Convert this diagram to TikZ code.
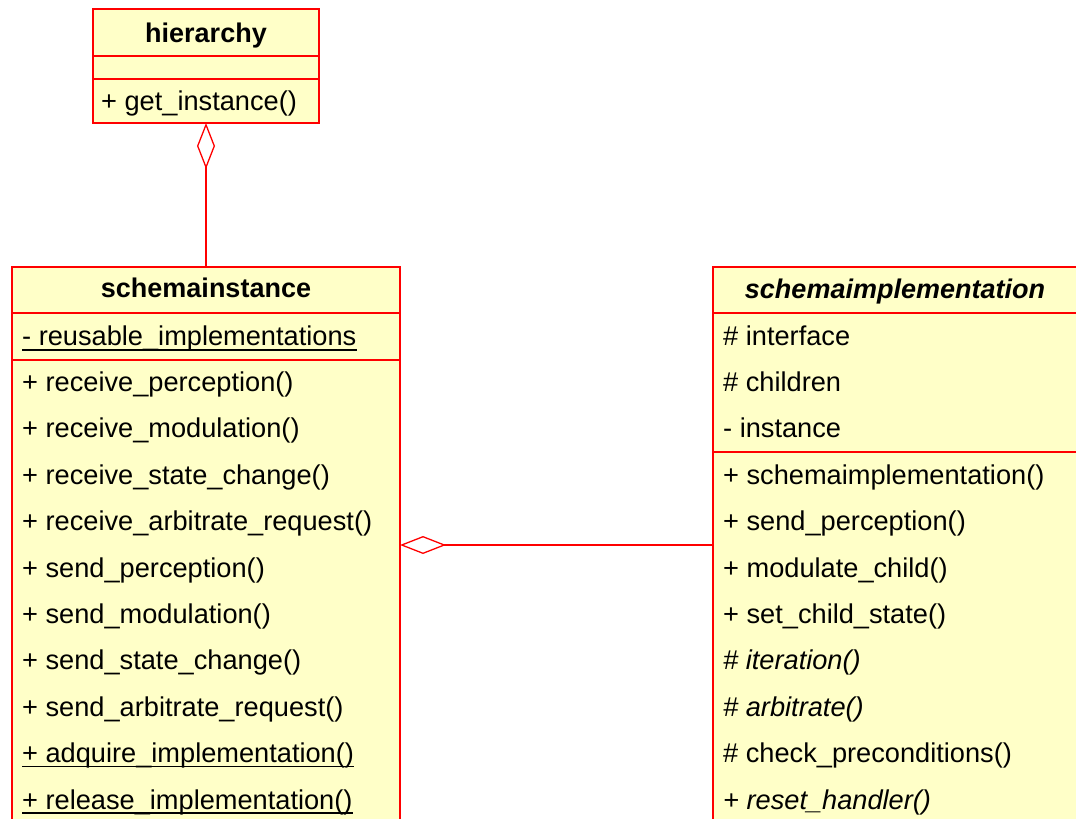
\documentclass[tikz,border=0pt]{standalone}
\usepackage{fontspec}
\setmainfont{Liberation Sans}
\usetikzlibrary{arrows.meta}
\definecolor{umlfill}{RGB}{255,255,200}
\definecolor{umlline}{RGB}{255,0,0}
\begin{document}
\begin{tikzpicture}[x=1pt,y=-1pt,
  classbox/.style={draw=umlline, fill=umlfill, line width=1.5pt, inner sep=0pt,
    outer sep=0pt, anchor=north west},
  divider/.style={draw=umlline, line width=1.5pt},
  classtitle/.style={inner sep=0pt, anchor=base, font=\fontsize{27}{30}\selectfont\bfseries},
  member/.style={inner sep=0pt, anchor=base west, font=\fontsize{27.2}{30}\selectfont},
  uline/.style={draw=black, line width=1.2pt},
  conn/.style={draw=umlline, line width=1.8pt},
  agg/.style={{Diamond[open, length=46pt, width=18pt, line width=1.3pt]}-}
]
\useasboundingbox (0,0) rectangle (1076,819);
\clip (0,0) rectangle (1076,819);

% class boxes
\node[classbox, minimum width=226pt, minimum height=114pt] (hier) at (93,9) {};
\node[classbox, minimum width=388pt, minimum height=620pt] (inst) at (12,267) {};
\node[classbox, minimum width=366pt, minimum height=620pt] (impl) at (713,267) {};

% compartment dividers
\draw[divider] (hier.west |- 0,56) -- (hier.east |- 0,56);
\draw[divider] (hier.west |- 0,79) -- (hier.east |- 0,79);
\draw[divider] (inst.west |- 0,313) -- (inst.east |- 0,313);
\draw[divider] (inst.west |- 0,360) -- (inst.east |- 0,360);
\draw[divider] (impl.west |- 0,313) -- (impl.east |- 0,313);
\draw[divider] (impl.west |- 0,452) -- (impl.east |- 0,452);

% hierarchy
\node[classtitle] (hiername) at (206,42) {hierarchy};
\node[member] (h1) at (101,110) {+ get\_instance()};

% schemainstance
\node[classtitle] (instname) at (206,297) {schemainstance};
\node[member] (ia1) at (22,345.0) {- reusable\_implementations};
\node[member] (im1) at (22,391.4) {+ receive\_perception()};
\node[member] (im2) at (22,437.8) {+ receive\_modulation()};
\node[member] (im3) at (22,484.2) {+ receive\_state\_change()};
\node[member] (im4) at (22,530.6) {+ receive\_arbitrate\_request()};
\node[member] (im5) at (22,577.0) {+ send\_perception()};
\node[member] (im6) at (22,623.4) {+ send\_modulation()};
\node[member] (im7) at (22,669.8) {+ send\_state\_change()};
\node[member] (im8) at (22,716.2) {+ send\_arbitrate\_request()};
\node[member] (im9) at (22,762.6) {+ adquire\_implementation()};
\node[member] (im10) at (22,809.0) {+ release\_implementation()};
% static members are underlined
\draw[uline] ([yshift=-5pt]ia1.base west) -- ([yshift=-5pt]ia1.base east);
\draw[uline] ([yshift=-4pt]im9.base west) -- ([yshift=-4pt]im9.base east);
\draw[uline] ([yshift=-4pt]im10.base west) -- ([yshift=-4pt]im10.base east);

% schemaimplementation (abstract)
\node[classtitle, font=\fontsize{27}{30}\selectfont\bfseries\itshape] (implname) at (895,298) {schemaimplementation};
\node[member] (pa1) at (723,345.0) {\# interface};
\node[member] (pa2) at (723,391.4) {\# children};
\node[member] (pa3) at (723,437.8) {- instance};
\node[member] (pm1) at (723,484.2) {+ schemaimplementation()};
\node[member] (pm2) at (723,530.6) {+ send\_perception()};
\node[member] (pm3) at (723,577.0) {+ modulate\_child()};
\node[member] (pm4) at (723,623.4) {+ set\_child\_state()};
\node[member] (pm5) at (723,669.8) {\itshape \# iteration()};
\node[member] (pm6) at (723,716.2) {\itshape \# arbitrate()};
\node[member] (pm7) at (723,762.6) {\# check\_preconditions()};
\node[member] (pm8) at (723,809.0) {\itshape + reset\_handler()};

% aggregations
\draw[conn, agg] (hier.south) -- (inst.north);
\coordinate (aggrow) at (0,545);
\draw[conn, agg] (inst.east |- aggrow) -- (impl.west |- aggrow);
\end{tikzpicture}
\end{document}
